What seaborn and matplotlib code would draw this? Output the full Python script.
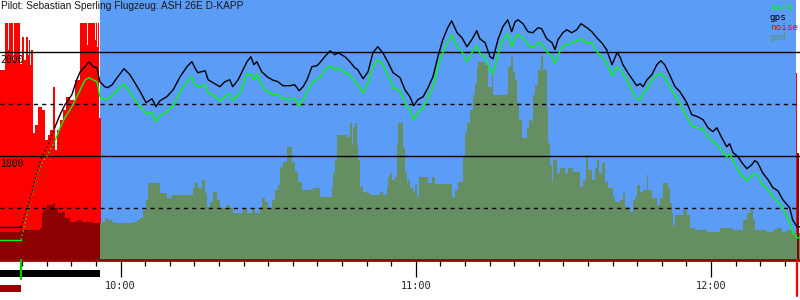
import numpy as np
import pandas as pd
import matplotlib
matplotlib.use("Agg")
import matplotlib.pyplot as plt
import matplotlib.transforms as mtransforms
from matplotlib.patches import Rectangle
from matplotlib.ticker import MultipleLocator, FuncFormatter
import seaborn as sns

# ---------------- data (time = minutes since midnight, altitude = m) ----------------
gps_t = [575.5, 579.8, 581.6, 583.0, 584.0, 585.1, 585.7, 586.7, 587.7, 588.7, 590.1, 591.1, 591.8, 592.8,
         593.6, 594.4, 595.2, 595.8, 596.8, 597.4, 598.3, 599.3, 600.7, 601.9, 602.9, 604.0, 605.2, 606.4,
         607.2, 608.0, 609.4, 610.7, 612.1, 613.5, 614.5, 615.1, 615.7, 617.2, 617.8, 618.8, 620.2, 621.2,
         622.2, 622.8, 623.9, 624.9, 625.7, 626.5, 627.1, 627.7, 628.7, 629.8, 630.8, 632.0, 633.0, 634.4,
         635.4, 636.3, 637.1, 637.9, 638.9, 639.9, 640.5, 641.5, 642.6, 643.6, 644.2, 645.6, 646.6, 647.6,
         648.2, 649.3, 650.3, 651.3, 652.3, 653.3, 654.3, 655.4, 656.8, 657.8, 658.8, 659.6, 660.4, 661.5,
         662.5, 663.5, 664.5, 665.5, 666.5, 667.3, 668.4, 669.4, 670.4, 671.4, 672.4, 673.0, 674.1, 675.1,
         675.7, 676.7, 677.7, 678.7, 679.5, 680.2, 680.8, 681.8, 682.8, 683.8, 684.8, 685.6, 686.6, 687.7,
         688.3, 688.9, 689.9, 690.7, 691.7, 692.7, 693.6, 694.8, 695.8, 696.8, 697.8, 698.8, 699.9, 700.9,
         701.5, 702.1, 703.1, 704.1, 704.9, 705.6, 706.2, 707.0, 708.0, 709.0, 709.8, 710.6, 711.6, 712.7,
         713.7, 715.1, 716.1, 717.3, 718.4, 719.4, 720.4, 721.2, 722.2, 723.2, 723.8, 724.5, 725.5, 726.3,
         727.3, 728.3, 728.9, 729.5, 730.5, 731.6, 732.6, 733.6, 734.6, 736.0, 736.6, 737.5, 738.1]
gps_alt = [320, 320, 580, 839, 993, 1089, 1157, 1282, 1397, 1493, 1589, 1733, 1810, 1859,
           1907, 1859, 1849, 1714, 1666, 1657, 1685, 1753, 1839, 1782, 1705, 1618, 1512, 1551,
           1474, 1531, 1570, 1637, 1762, 1859, 1907, 1849, 1801, 1820, 1733, 1705, 1666, 1714,
           1733, 1666, 1733, 1830, 1907, 1955, 1878, 1907, 1810, 1762, 1733, 1714, 1676, 1676,
           1685, 1628, 1666, 1733, 1859, 1868, 1897, 1955, 2012, 1974, 1993, 1955, 1907, 1849,
           1830, 1743, 1810, 1993, 2051, 1993, 1907, 1801, 1753, 1637, 1570, 1483, 1541, 1570,
           1657, 1762, 1955, 2118, 2233, 2300, 2185, 2137, 2051, 2118, 2205, 2128, 2089, 1955,
           1935, 2118, 2243, 2310, 2195, 2291, 2310, 2272, 2195, 2185, 2233, 2224, 2128, 2089,
           2022, 2118, 2185, 2214, 2185, 2214, 2272, 2233, 2195, 2137, 2089, 2022, 1878, 1993,
           1955, 1878, 1801, 1733, 1676, 1695, 1666, 1733, 1782, 1878, 1916, 1878, 1782, 1666,
           1618, 1512, 1397, 1378, 1349, 1272, 1234, 1272, 1176, 1089, 1118, 1032, 993, 936,
           878, 916, 955, 936, 839, 772, 695, 666, 580, 503, 388, 320, 320]
baro_alt = [195, 195, 560, 810, 936, 1003, 1061, 1147, 1272, 1368, 1474, 1570, 1637, 1733,
            1753, 1733, 1714, 1570, 1541, 1551, 1580, 1628, 1695, 1618, 1541, 1474, 1406, 1416,
            1330, 1387, 1426, 1483, 1618, 1714, 1762, 1685, 1666, 1685, 1608, 1589, 1531, 1570,
            1599, 1531, 1580, 1676, 1791, 1791, 1733, 1791, 1676, 1618, 1599, 1589, 1551, 1541,
            1551, 1483, 1541, 1618, 1705, 1733, 1753, 1830, 1868, 1830, 1849, 1801, 1782, 1714,
            1685, 1608, 1705, 1859, 1926, 1878, 1782, 1657, 1628, 1512, 1445, 1349, 1416, 1464,
            1560, 1666, 1859, 1993, 2099, 2166, 2051, 2003, 1907, 1993, 2060, 1993, 1945, 1830,
            1791, 1974, 2118, 2176, 2051, 2147, 2166, 2137, 2070, 2041, 2089, 2080, 2003, 1955,
            1887, 1974, 2051, 2070, 2089, 2108, 2128, 2089, 2089, 2003, 1955, 1897, 1772, 1859,
            1830, 1791, 1714, 1618, 1551, 1541, 1608, 1647, 1733, 1782, 1791, 1753, 1676, 1580,
            1503, 1378, 1291, 1272, 1253, 1186, 1137, 1109, 1051, 993, 1022, 955, 868, 810,
            762, 810, 830, 810, 724, 676, 609, 561, 503, 368, 263, 214, 214]

gnd_t = [575.5, 579.6, 583.6, 584.0, 584.2, 585.1, 586.3, 586.7, 587.3, 588.1, 588.7, 589.7, 591.1, 592.2,
         594.4, 596.2, 596.8, 597.4, 598.3, 598.9, 602.5, 603.3, 604.0, 604.6, 605.2, 605.6, 607.4, 608.0,
         609.4, 610.5, 614.7, 615.1, 615.7, 616.5, 617.2, 617.6, 618.2, 618.8, 619.6, 620.2, 621.6, 622.2,
         622.8, 624.9, 625.7, 626.7, 627.3, 628.3, 628.7, 629.3, 630.0, 630.8, 631.4, 632.0, 632.4, 633.0,
         633.8, 634.8, 635.4, 636.1, 636.9, 639.1, 640.5, 643.0, 643.2, 643.6, 644.0, 646.0, 646.6, 647.0,
         647.2, 647.6, 648.0, 648.2, 648.6, 649.3, 650.1, 650.7, 652.7, 653.3, 654.1, 654.3, 654.7, 655.2,
         655.8, 656.2, 656.4, 657.4, 657.8, 658.2, 658.4, 658.8, 659.4, 659.8, 660.2, 660.6, 662.5, 663.3,
         663.9, 667.3, 668.0, 668.6, 669.6, 670.0, 670.4, 671.0, 671.6, 672.0, 672.4, 672.6, 674.1, 674.7,
         675.5, 675.7, 678.5, 678.7, 679.3, 679.7, 680.1, 680.6, 681.0, 681.6, 682.6, 683.0, 683.6, 683.8,
         684.2, 684.8, 685.4, 685.8, 686.6, 686.9, 687.3, 687.7, 687.9, 688.7, 689.3, 690.3, 690.9, 691.9,
         693.4, 694.0, 694.6, 695.0, 695.8, 696.4, 696.8, 697.2, 697.8, 698.4, 699.0, 700.1, 700.5, 701.5,
         702.1, 702.5, 703.5, 704.1, 704.5, 704.9, 705.6, 706.2, 707.0, 707.2, 708.0, 709.0, 709.6, 710.2,
         711.2, 711.6, 712.1, 712.3, 712.7, 714.3, 715.1, 715.7, 716.7, 719.2, 721.8, 724.5, 726.5, 727.3,
         727.9, 728.5, 728.9, 731.4, 732.6, 733.4, 734.4, 735.4, 736.4, 738.1]
gnd_alt = [272, 291, 311, 455, 484, 532, 551, 503, 455, 464, 407, 368, 388, 368,
           359, 368, 407, 388, 368, 359, 368, 388, 407, 484, 580, 743, 743, 647,
           599, 628, 705, 743, 695, 772, 647, 512, 561, 657, 580, 503, 532, 503,
           455, 503, 455, 503, 455, 512, 599, 561, 503, 580, 676, 724, 897, 945,
           1089, 945, 849, 753, 676, 695, 609, 695, 839, 964, 1205, 1186, 1320, 1109,
           1282, 1320, 1109, 964, 705, 657, 647, 628, 657, 628, 705, 801, 839, 772,
           801, 1109, 1320, 1089, 839, 743, 772, 695, 657, 724, 609, 801, 743, 801,
           734, 609, 676, 753, 993, 1224, 1320, 1445, 1589, 1705, 1859, 1907, 1878, 1666,
           1791, 1589, 1608, 1859, 1955, 1810, 1733, 1512, 1349, 1176, 1272, 1349, 1320, 1589,
           1685, 1830, 1964, 1830, 1474, 1128, 916, 753, 964, 839, 887, 839, 887, 849,
           705, 772, 1012, 868, 772, 887, 964, 839, 936, 753, 695, 609, 561, 580,
           647, 512, 464, 580, 609, 724, 657, 676, 820, 676, 599, 532, 599, 743,
           695, 551, 455, 340, 436, 484, 436, 311, 291, 272, 311, 291, 388, 455,
           484, 388, 291, 272, 291, 311, 272, 291, 263, 263]

noise_t = [575.5, 576.5, 577.1, 577.3, 578.1, 578.3, 579.6, 580.0, 580.4, 580.8, 581.2, 581.4, 581.6, 581.8,
           582.2, 582.6, 583.2, 584.0, 584.6, 585.3, 585.7, 586.3, 586.7, 587.1, 587.7, 588.3, 588.9, 589.7,
           590.7, 591.8, 593.2, 593.4, 594.8, 595.0, 595.3, 595.4, 595.7, 596.0, 737.35, 737.55, 738.1]
noise_v = [1830, 2282, 2022, 2282, 1926, 2282, 1880, 2147, 1926, 2147, 1974, 2118, 1878, 2022,
           1224, 1301, 1474, 1445, 1157, 1205, 1253, 1666, 1061, 1253, 1349, 1445, 1570, 1541,
           1733, 2282, 2070, 2282, 2118, 2282, 2050, 2282, 1368, 0, 1800, 0, 0]

# events
launch_t = 579.8       # launch
release_t = 586.7      # end of dotted climb
flight_start = 595.8   # start of blue (flight) zone
flight_end = 737.25    # end of blue zone
landing_t = 737.45
x_min, x_max = 575.5, 738.1

title = "Pilot: Sebastian Sperling Flugzeug: ASH 26E D-KAPP"
legend_items = [("baro", "#00ff00"), ("gps", "#000000"), ("noise", "#ff0000"), ("gnd", "#658e62")]
ref_levels = [500, 1000, 1500, 2000]
ref_labels = {1000: "1000", 2000: "2000"}

# ---------------- style ----------------
sns.set_theme(style="white")
plt.rcParams["font.family"] = ["DejaVu Sans"]
BLUE = "#5a9cf6"
GND = "#658e62"
DARKRED = "#8b0000"
MONO = "DejaVu Sans Mono"

fig = plt.figure(figsize=(8, 3), dpi=100)
ax = fig.add_axes([0, 40 / 300, 1, 260 / 300])
ax.set_facecolor("white")
ax.set_xlim(x_min, x_max)
ax.set_ylim(0, 2500)

ax.axvspan(flight_start, flight_end, color=BLUE, lw=0, zorder=0)

# noise bars
ax.fill_between(noise_t, 0, noise_v, step="post", color="#ff0000", lw=0, zorder=1)

# ground
ax.fill_between(gnd_t, 0, gnd_alt, step="post", color=GND, lw=0, zorder=2)
dr = ax.fill_between(gnd_t, 0, gnd_alt, step="post", color=DARKRED, lw=0, zorder=2.1)
dr.set_clip_path(Rectangle((x_min, 0), flight_start - x_min, 3000, transform=ax.transData))
ax.bar([737.75], [1030], width=0.35, color=DARKRED, lw=0, zorder=2.2, align="center")

# reference lines
for lv in ref_levels:
    if lv % 1000 == 0:
        ax.axhline(lv, color="black", lw=1.0, zorder=3)
    else:
        ax.axhline(lv, color="black", lw=1.0, ls=(0, (3, 3)), zorder=3)
for lv, lab in ref_labels.items():
    ax.annotate(lab, xy=(0, lv), xycoords=("axes fraction", "data"), xytext=(0.3, -2),
                textcoords="offset points", va="top", ha="left", fontsize=7.0,
                family=MONO, color="black", zorder=6)

# lines
df = pd.DataFrame({"t": gps_t, "gps": gps_alt, "baro": baro_alt})
segs = [(df[df.t <= launch_t], "-"), (df[(df.t >= launch_t) & (df.t <= release_t)], (0, (1, 2))),
        (df[df.t >= release_t], "-")]
for sub, ls in segs:
    sns.lineplot(data=sub, x="t", y="baro", ax=ax, color="#00ff00", lw=1.0, ls=ls,
                 estimator=None, sort=False, zorder=4)
    sns.lineplot(data=sub, x="t", y="gps", ax=ax, color="black", lw=1.0, ls=ls,
                 estimator=None, sort=False, zorder=5)

# axes cosmetics
for s in ax.spines.values():
    s.set_visible(False)
ax.axhline(0, color="#990000", lw=2.0, zorder=6, clip_on=False)
ax.set_xlabel("")
ax.set_ylabel("")
ax.set_yticks([])
ax.xaxis.set_major_locator(MultipleLocator(60))
ax.xaxis.set_minor_locator(MultipleLocator(5))
ax.xaxis.set_major_formatter(FuncFormatter(lambda v, p: f"{int(v // 60)}:{int(round(v % 60)):02d}"))
ax.tick_params(axis="x", which="major", direction="out", length=12.5, width=0.9, color="black",
               pad=2.5, labelsize=7.4, bottom=True)
ax.tick_params(axis="x", which="minor", direction="out", length=4, width=0.9, color="black",
               bottom=True)
for lab in ax.get_xticklabels():
    lab.set_family(MONO)

# markers below the axis
trans = mtransforms.blended_transform_factory(ax.transData, ax.transAxes)
ax.add_patch(Rectangle((x_min, -17 / 260), flight_start - x_min, 7 / 260, transform=trans,
                       color="black", lw=0, clip_on=False))
ax.add_patch(Rectangle((x_min, -32 / 260), launch_t - x_min, 7 / 260, transform=trans,
                       color="#990000", lw=0, clip_on=False))
ax.plot([launch_t, launch_t], [0, -19 / 260], transform=trans, color="#00cc00", lw=1.6,
        clip_on=False, zorder=7)
ax.plot([landing_t, landing_t], [0, -36 / 260], transform=trans, color="#ff0000", lw=1.6,
        clip_on=False, zorder=7)

# title & legend
fig.text(0.001, 0.998, title, ha="left", va="top", fontsize=7.3, color="#1a1a1a",
         family=["Liberation Sans", "DejaVu Sans"])
for i, (name, col) in enumerate(legend_items):
    fig.text(770 / 800, 1 - (7 + 10 * i) / 300, name, ha="left", va="center", fontsize=6.7,
             family=MONO, color=col)

fig.savefig("out.png", dpi=100)
